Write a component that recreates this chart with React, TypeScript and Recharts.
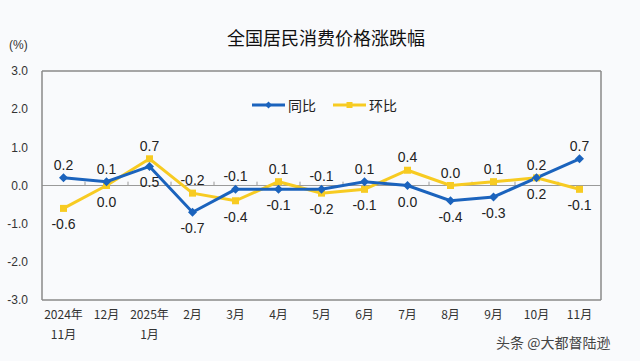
import React from 'react';
import {
  LineChart,
  Line,
  XAxis,
  YAxis,
  ReferenceLine,
} from 'recharts';

const MONTHS = [
  ['2024年', '11月'],
  ['12月'],
  ['2025年', '1月'],
  ['2月'],
  ['3月'],
  ['4月'],
  ['5月'],
  ['6月'],
  ['7月'],
  ['8月'],
  ['9月'],
  ['10月'],
  ['11月'],
];

const YOY = [0.2, 0.1, 0.5, -0.7, -0.1, -0.1, -0.1, 0.1, 0.0, -0.4, -0.3, 0.2, 0.7];
const MOM = [-0.6, 0.0, 0.7, -0.2, -0.4, 0.1, -0.2, -0.1, 0.4, 0.0, 0.1, 0.2, -0.1];

const Y_TICKS = [-3, -2, -1, 0, 1, 2, 3];

const BLUE = '#1B63BD';
const YELLOW = '#F7CB22';
const BG = '#F9FAFC';
const FRAME = '#8a8a8a';

const data = MONTHS.map((m, i) => ({ idx: i, yoy: YOY[i], mom: MOM[i] }));

function XTick(props: any) {
  const { x, y, payload } = props;
  const lines = MONTHS[payload.value] || [];
  return (
    <text
      x={x}
      y={y}
      textAnchor="middle"
      fontSize={12}
      fill="#333"
      fontFamily="'Noto Sans CJK SC', sans-serif"
    >
      {lines.map((l, k) => (
        <tspan key={k} x={x} dy={k === 0 ? 19 : 20}>
          {l}
        </tspan>
      ))}
    </text>
  );
}

// label goes above the point when this series is the higher one at that month
function makeLabel(own: number[], other: number[], winsTie: boolean) {
  return (props: any) => {
    const { x, y, index } = props;
    const a = own[index];
    const b = other[index];
    const above = a > b || (a === b && winsTie);
    return (
      <text
        x={x}
        y={above ? y - 13 : y + 16}
        textAnchor="middle"
        dominantBaseline="central"
        fontSize={14}
        fill="#222"
        fontFamily="'Liberation Sans', Arial, sans-serif"
      >
        {a.toFixed(1)}
      </text>
    );
  };
}

function Diamond(props: any) {
  const { cx, cy } = props;
  if (cx == null || cy == null) return null;
  const r = 4.5;
  return (
    <polygon
      points={`${cx},${cy - r} ${cx + r},${cy} ${cx},${cy + r} ${cx - r},${cy}`}
      fill={BLUE}
    />
  );
}

function Square(props: any) {
  const { cx, cy } = props;
  if (cx == null || cy == null) return null;
  return <rect x={cx - 3.5} y={cy - 3.5} width={7} height={7} fill={YELLOW} />;
}

function LegendBox() {
  const item = (color: string, label: string, marker: React.ReactNode) => (
    <div style={{ display: 'flex', alignItems: 'center', marginRight: 17 }}>
      <svg width={33} height={10}>
        <line x1={0} y1={5} x2={33} y2={5} stroke={color} strokeWidth={3} />
        {marker}
      </svg>
      <span style={{ marginLeft: 3, fontSize: 14, color: '#222' }}>{label}</span>
    </div>
  );
  return (
    <div
      style={{
        position: 'absolute',
        left: 252,
        top: 95,
        display: 'flex',
        fontFamily: "'Noto Sans CJK SC', sans-serif",
      }}
    >
      {item(BLUE, '同比', <polygon points="16.5,1.5 20,5 16.5,8.5 13,5" fill={BLUE} />)}
      {item(YELLOW, '环比', <rect x={13.5} y={2} width={6} height={6} fill={YELLOW} />)}
    </div>
  );
}

export default function App() {
  return (
    <div
      style={{
        position: 'relative',
        width: 640,
        height: 361,
        background: BG,
        fontFamily: "'Noto Sans CJK SC', sans-serif",
      }}
    >
      <style>{'body{margin:0}'}</style>
      <div
        style={{
          position: 'absolute',
          left: 0,
          width: 652,
          top: 24,
          textAlign: 'center',
          fontSize: 18,
          color: '#111',
        }}
      >
        全国居民消费价格涨跌幅
      </div>
      <div
        style={{
          position: 'absolute',
          left: 9,
          top: 38,
          fontSize: 12,
          color: '#333',
          fontFamily: "'Liberation Sans', Arial, sans-serif",
        }}
      >
        (%)
      </div>
      <LineChart
        width={640}
        height={361}
        data={data}
        margin={{ top: 71, right: 39, left: 0, bottom: 0 }}
      >
        <XAxis
          type="number"
          dataKey="idx"
          domain={[-0.5, 12.5]}
          ticks={MONTHS.map((_, i) => i)}
          interval={0}
          tick={<XTick />}
          tickLine={false}
          tickSize={0}
          tickMargin={0}
          height={61}
          axisLine={{ stroke: FRAME, strokeWidth: 1.5 }}
        />
        <YAxis
          domain={[-3, 3]}
          ticks={Y_TICKS}
          interval={0}
          width={42}
          tickLine={false}
          tickSize={0}
          tickMargin={14}
          tickFormatter={(v: number) => v.toFixed(1)}
          tick={{ fontSize: 12, fill: '#333', fontFamily: "'Liberation Sans', Arial, sans-serif" }}
          axisLine={{ stroke: FRAME, strokeWidth: 1.5 }}
        />
        {/* top and right edges of the plot frame */}
        <ReferenceLine y={3} stroke={FRAME} strokeWidth={1.5} ifOverflow="extendDomain" />
        <ReferenceLine x={12.5} stroke={FRAME} strokeWidth={1.5} ifOverflow="extendDomain" />
        <ReferenceLine y={0} stroke="#9a9a9a" strokeWidth={1} />
        {MONTHS.slice(1).map((_, i) => (
          <ReferenceLine
            key={i}
            segment={[
              { x: i + 0.5, y: 0 },
              { x: i + 0.5, y: 0.1 },
            ]}
            stroke="#9a9a9a"
          />
        ))}
        <Line
          type="linear"
          dataKey="mom"
          name="环比"
          stroke={YELLOW}
          strokeWidth={3}
          dot={<Square />}
          activeDot={false}
          label={makeLabel(MOM, YOY, true)}
          isAnimationActive={false}
        />
        <Line
          type="linear"
          dataKey="yoy"
          name="同比"
          stroke={BLUE}
          strokeWidth={3}
          dot={<Diamond />}
          activeDot={false}
          label={makeLabel(YOY, MOM, false)}
          isAnimationActive={false}
        />
      </LineChart>
      <LegendBox />
      <div
        style={{
          position: 'absolute',
          left: 496,
          top: 332,
          fontSize: 14,
          color: '#444',
        }}
      >
        头条 @大都督陆逊
      </div>
    </div>
  );
}
